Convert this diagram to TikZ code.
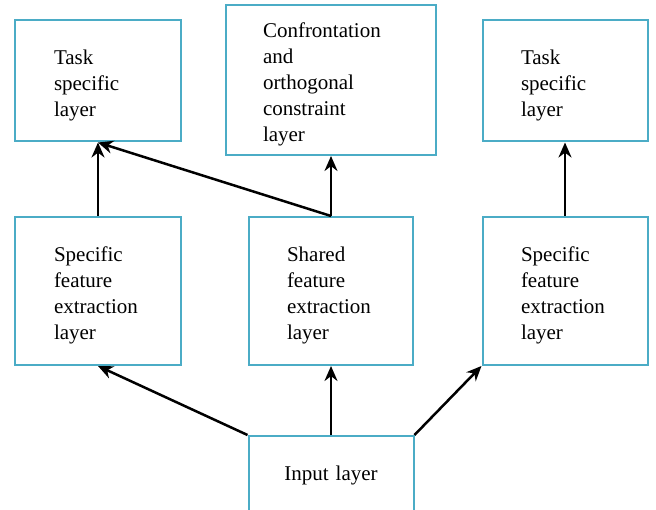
\documentclass[tikz,border=0pt]{standalone}
\usepackage{fontspec}
\newfontfamily\layerfont{Liberation Serif}
\usepackage{xcolor}
\definecolor{layerblue}{RGB}{75,172,198}
\usetikzlibrary{arrows.meta,positioning}

\begin{document}
\begin{tikzpicture}
[	x=1pt, y=-1pt,
	layer/.style={draw=layerblue, line width=2pt, inner sep=0pt, align=left,
		font=\layerfont\fontsize{21}{26}\selectfont},
	droptext/.style={execute at begin node={\rule{0pt}{#1}}},
	smallbox/.style={layer, droptext=23pt, minimum width=166pt, minimum height=121pt, text width=88pt},
	tallbox/.style={layer, droptext=23pt, minimum width=166pt, minimum height=148pt, text width=88pt},
	flow/.style={line width=2.5pt, -{Stealth[length=15pt,width=13pt]}}
]
\useasboundingbox (0,0) rectangle (656,510);

% top row
\node(taskL)[smallbox] at (98,81) {Task\\specific\\layer};
\node(confr)[layer, droptext=23pt, minimum width=210pt, minimum height=150pt, text width=136pt] at (331,80)
	{Confrontation\\and\\orthogonal\\constraint\\layer};
\node(taskR)[smallbox, minimum width=165pt] at (565,81) {Task\\specific\\layer};

% middle row
\node(featL)[tallbox] at (98,291) {Specific\\feature\\extraction\\layer};
\node(shared)[tallbox, minimum width=164pt] at (331,291) {Shared\\feature\\extraction\\layer};
\node(featR)[tallbox, minimum width=165pt] at (565,291) {Specific\\feature\\extraction\\layer};

% input box runs off the bottom edge
\node(input)[layer, align=center, minimum width=165pt, minimum height=78pt, text width=140pt] at (331,475) {Input layer};

% arrows up to the task layers
\draw[flow](featL.north)--(taskL.south);
\draw[flow](shared.north)--(confr.south);
\draw[flow](shared.north)--(taskL.south);
\draw[flow](featR.north)--(taskR.south);

% arrows out of the input layer
\draw[flow](input.north west)--(featL.south);
\draw[flow](input.north)--(shared.south);
\draw[flow](input.north east)--(featR.south west);

\end{tikzpicture}
\end{document}
